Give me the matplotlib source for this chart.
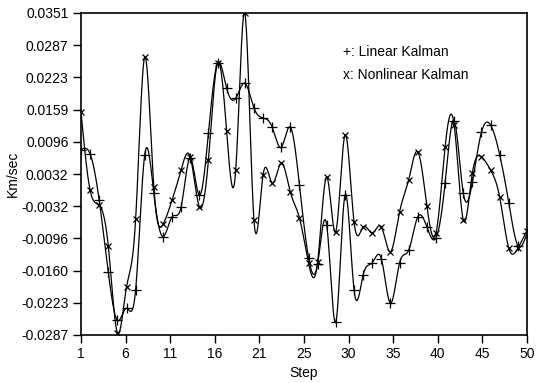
import numpy as np
import matplotlib
matplotlib.use("Agg")
import matplotlib.pyplot as plt

# values, one per step
steps = list(range(1, 51))
linear_kalman = [
    0.0080, 0.0072, -0.0020, -0.0163, -0.0258, -0.0234, -0.0198, 0.0070, -0.0006, -0.0092,
    -0.0053, -0.0033, 0.0064, -0.0010, 0.0113, 0.0252, 0.0202, 0.0182, 0.0212, 0.0163,
    0.0143, 0.0125, 0.0085, 0.0125, 0.0010, -0.0134, -0.0146, -0.0070, -0.0261, -0.0010,
    -0.0198, -0.0168, -0.0144, -0.0136, -0.0224, -0.0144, -0.0119, -0.0053, -0.0073, -0.0095,
    0.0014, 0.0138, -0.0006, 0.0016, 0.0115, 0.0129, 0.0070, -0.0025, -0.0110, -0.0085,
]
nonlinear_kalman = [
    0.0155, 0.0000, -0.0030, -0.0111, -0.0283, -0.0192, -0.0058, 0.0264, 0.0006, -0.0068,
    -0.0020, 0.0040, 0.0066, -0.0033, 0.0060, 0.0252, 0.0117, 0.0040, 0.0351, -0.0059,
    0.0030, 0.0014, 0.0054, -0.0004, -0.0055, -0.0145, -0.0142, 0.0026, -0.0082, 0.0109,
    -0.0063, -0.0073, -0.0085, -0.0073, -0.0122, -0.0043, 0.0020, 0.0076, -0.0031, -0.0085,
    0.0085, 0.0129, -0.0059, 0.0034, 0.0066, 0.0040, -0.0014, -0.0115, -0.0115, -0.0080,
]
x_tick_labels = ["1", "6", "11", "16", "21", "25", "30", "35", "40", "45", "50"]
y_tick_labels = ["-0.0287", "-0.0223", "-0.0160", "-0.0096", "-0.0032", "0.0032",
                 "0.0096", "0.0159", "0.0223", "0.0287", "0.0351"]
y_min, y_max = -0.0287, 0.0351


def smooth(x, y, n=24):
    """natural cubic spline through the points, only for drawing the line"""
    x = np.asarray(x, float)
    y = np.asarray(y, float)
    h = np.diff(x)
    k = len(x)
    A = np.zeros((k, k))
    b = np.zeros(k)
    A[0, 0] = A[-1, -1] = 1
    for i in range(1, k - 1):
        A[i, i - 1] = h[i - 1]
        A[i, i] = 2 * (h[i - 1] + h[i])
        A[i, i + 1] = h[i]
        b[i] = 6 * ((y[i + 1] - y[i]) / h[i] - (y[i] - y[i - 1]) / h[i - 1])
    M = np.linalg.solve(A, b)
    xs = np.linspace(x[0], x[-1], (k - 1) * n + 1)
    j = np.clip(np.searchsorted(x, xs) - 1, 0, k - 2)
    hi = h[j]
    a = x[j + 1] - xs
    t = xs - x[j]
    ys = (M[j] * a**3 + M[j + 1] * t**3) / (6 * hi) \
        + (y[j] / hi - M[j] * hi / 6) * a + (y[j + 1] / hi - M[j + 1] * hi / 6) * t
    return xs, ys


plt.rcParams['font.family'] = ['Liberation Sans']
plt.rcParams['font.size'] = 10

fig = plt.figure(figsize=(5.36, 3.83), dpi=100)
ax = fig.add_axes([81 / 536, 48 / 383, 446 / 536, 322 / 383])

for vals, mk, ms in [(linear_kalman, '+', 6.5), (nonlinear_kalman, 'x', 5)]:
    xs, ys = smooth(steps, vals)
    ax.plot(xs, ys, color='black', lw=0.9)
    ax.plot(steps, vals, ls='none', marker=mk, ms=ms, mew=0.9, color='black')

ax.set_xlim(1, 50)
ax.set_ylim(y_min, y_max)
ax.set_xticks(np.linspace(1, 50, 11))
ax.set_xticklabels(x_tick_labels)
ax.set_yticks(np.linspace(y_min, y_max, 11))
ax.set_yticklabels(y_tick_labels)
ax.tick_params(direction='out', length=5.5, width=1, pad=3.5)
for s in ax.spines.values():
    s.set_linewidth(1.2)

ax.set_xlabel("Step", labelpad=3)
ax.set_ylabel("Km/sec", labelpad=1)

ax.text(0.587, 0.879, "+: Linear Kalman", transform=ax.transAxes, va='center')
ax.text(0.587, 0.807, "x: Nonlinear Kalman", transform=ax.transAxes, va='center')

fig.savefig("out.png", dpi=100)
